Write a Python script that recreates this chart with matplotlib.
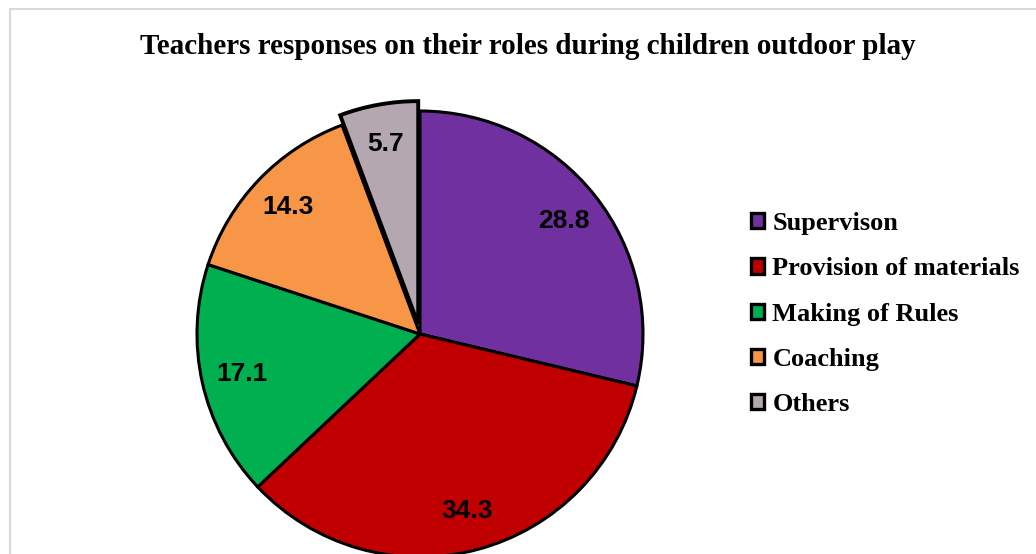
import numpy as np
import matplotlib.pyplot as plt
from matplotlib.patches import Rectangle

categories = ['Supervison', 'Provision of materials', 'Making of Rules',
              'Coaching', 'Others']
values = [28.8, 34.3, 17.1, 14.3, 5.7]
colors = ['#7030A0', '#C00000', '#00B050', '#F79646', '#B4A7B0']
explode = [0, 0, 0, 0, 0.045]  # fraction of the radius

W, H = 1036, 554
fig = plt.figure(figsize=(W / 100, H / 100), dpi=100)

# pixel-based axes so the pie can sit partly below the figure edge
ax = fig.add_axes([0, 0, 1, 1])

cx, cy, r = 420, H - 334, 223
wedges, _ = ax.pie(values, colors=colors, startangle=90, counterclock=False,
                   explode=[e * r for e in explode], center=(cx, cy),
                   radius=r, normalize=True,
                   wedgeprops=dict(edgecolor='black', linewidth=2.2))
ax.set_xlim(0, W)
ax.set_ylim(0, H)
ax.set_aspect('equal')
ax.axis('off')

for w, v in zip(wedges, values):
    ang = np.deg2rad((w.theta1 + w.theta2) / 2)
    wx, wy = w.center
    d = 0.82 * r
    ax.text(wx + d * np.cos(ang), wy + d * np.sin(ang), f'{v:.1f}',
            ha='center', va='center', fontsize=19, fontweight='bold',
            family='Liberation Sans')

fig.text(528 / W, 1 - 47 / H,
         'Teachers responses on their roles during children outdoor play',
         ha='center', va='center', fontsize=21, fontweight='bold',
         family='Liberation Serif')

leg = fig.legend(wedges, categories, loc='upper left',
                 bbox_to_anchor=(738 / W, 1 - 199 / H), frameon=False,
                 prop=dict(family='Liberation Serif', weight='bold', size=19),
                 handlelength=0.5, handleheight=0.5, handletextpad=0.3,
                 labelspacing=0.84, borderpad=0)
for h in leg.legend_handles:
    h.set_linewidth(2.4)

# the exploded slice has a heavier outline in the reference
wedges[-1].set_linewidth(2.8)

# light chart-area border (top and left edges visible)
fig.patches.append(Rectangle((10 / W, -0.1), 1.2, 1 - 9 / H + 0.1,
                             transform=fig.transFigure, fill=False,
                             edgecolor='#D9D9D9', linewidth=1.5))

fig.savefig('out.png', dpi=100)
